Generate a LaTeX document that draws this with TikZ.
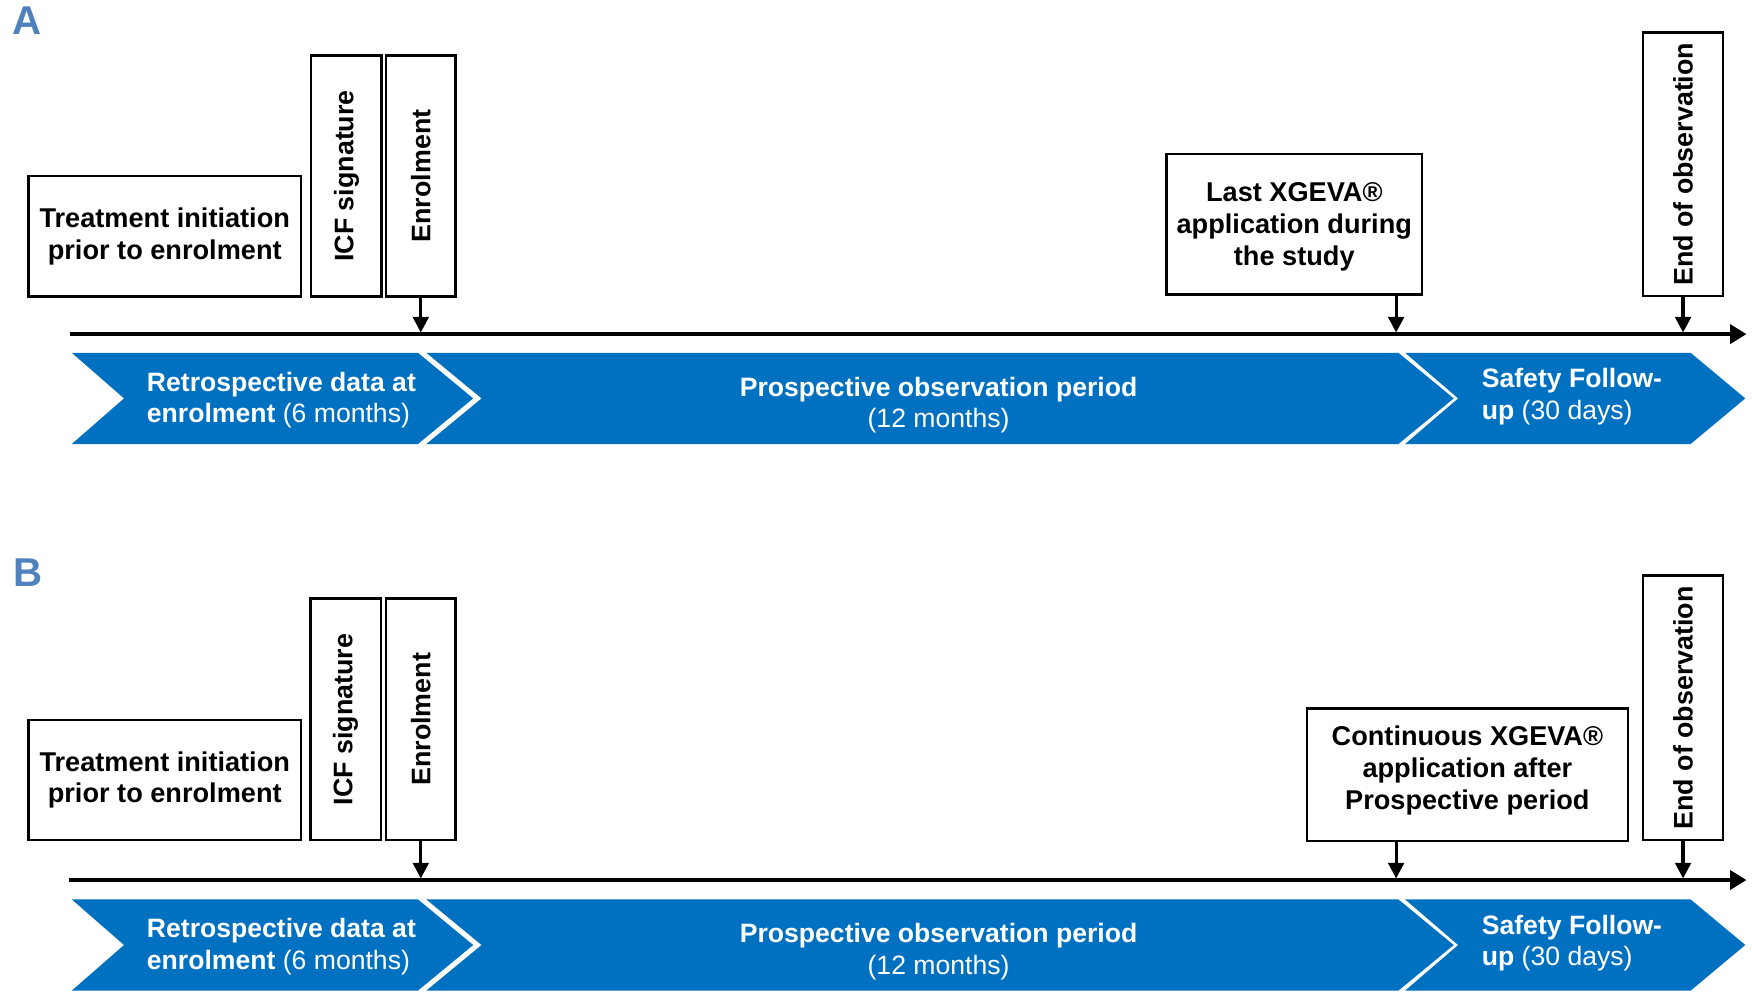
\documentclass[tikz,border=0pt]{standalone}
\usepackage{fontspec}
\setmainfont{Liberation Sans}
\usetikzlibrary{arrows.meta}
\definecolor{band}{RGB}{0,112,192}
\definecolor{lab}{RGB}{79,129,189}
\newcommand\blk{\fontsize{24.3}{28.5}\selectfont\bfseries}
\newcommand\vblk{\fontsize{24}{28}\selectfont\bfseries}
\newcommand\wht{\fontsize{23.8}{28}\selectfont\color{white}}
\begin{document}
\begin{tikzpicture}[x=1pt,y=-1pt,
  evbox/.style={draw=black, line width=2.2pt, fill=white, inner sep=0pt, align=center, font=\blk},
  btext/.style={font=\blk, inner sep=0pt, align=center},
  vtext/.style={rotate=90, font=\vblk, inner sep=0pt},
  chev/.style={fill=band, draw=none},
  ctext/.style={font=\wht, inner sep=0pt},
  tick/.style={line width=2.9pt, -{Triangle[length=14pt,width=14pt]}},
  axis/.style={line width=3pt, -{Triangle[length=14.5pt,width=17pt]}},
  panel/.style={font=\fontsize{36}{36}\selectfont\bfseries, text=lab, inner sep=0pt}
]
\path[use as bounding box] (0,0) rectangle (1568,887);

% ---------------- Panel A ----------------
\node[panel, anchor=north west] (labA) at (11,6) {A};

\coordinate (axA) at (62.7,299);
\coordinate (axAend) at (1563,299);
\coordinate (axtopA) at (0,297.6);
\draw[axis] (axA) -- (axAend);

\node[evbox, minimum width=243.5pt, minimum height=108pt] (trA) at (147.45,211.5) {Treatment initiation\\prior to enrolment};
\node[evbox, minimum width=63pt, minimum height=216pt] (icfA) at (310,157.5) {};
\node[vtext] (icfAt) at (icfA.center) {ICF signature};
\node[evbox, minimum width=62pt, minimum height=216pt] (enA) at (376.6,157.5) {};
\node[vtext] (enAt) at (enA.center) {Enrolment};
\node[evbox, minimum width=228.7pt, minimum height=125.6pt] (lastA) at (1158.35,200.6) {};
\node[btext] (lastAt) at (1158.35,203) {Last XGEVA®\\application during\\the study};
\node[evbox, minimum width=71.4pt, minimum height=236pt] (eoA) at (1506.3,147) {};
\node[vtext] (eoAt) at (eoA.center) {End of observation};

\coordinate (pA) at (1249.5,0);
\draw[tick] (enA.south) -- (enA.south |- axtopA);
\draw[tick] (lastA.south -| pA) -- (pA |- axtopA);
\draw[tick] (eoA.south) -- (eoA.south |- axtopA);

\fill[chev] (64.2,315.7) -- (374,315.7) -- (423.5,356.55) -- (374,397.4) -- (64.2,397.4) -- (111,356.55) -- cycle;
\fill[chev] (381.5,315.7) -- (1251.5,315.7) -- (1301,356.55) -- (1251.5,397.4) -- (381.5,397.4) -- (431,356.55) -- cycle;
\fill[chev] (1257.5,315.7) -- (1513,315.7) -- (1562,356.55) -- (1513,397.4) -- (1257.5,397.4) -- (1305,356.55) -- cycle;

\node[ctext, anchor=west, align=left] (c1A) at (131.3,358) {{\bfseries Retrospective data at}\\{\bfseries enrolment} (6 months)};
\node[ctext, align=center] (c2A) at (840,362.5) {{\bfseries Prospective observation period}\\(12 months)};
\node[ctext, anchor=west, align=left] (c3A) at (1326,355) {{\bfseries Safety Follow-}\\{\bfseries up} (30 days)};

% ---------------- Panel B ----------------
\node[panel, anchor=north west] (labB) at (11.5,500) {B};

\coordinate (axB) at (61.7,787.6);
\coordinate (axBend) at (1563,787.6);
\coordinate (axtopB) at (0,786.2);
\draw[axis] (axB) -- (axBend);

\node[evbox, minimum width=243.5pt, minimum height=107.4pt] (trB) at (147.45,698.1) {Treatment initiation\\prior to enrolment};
\node[evbox, minimum width=63pt, minimum height=216pt] (icfB) at (309.3,643.8) {};
\node[vtext] (icfBt) at (icfB.center) {ICF signature};
\node[evbox, minimum width=62pt, minimum height=216pt] (enB) at (376.6,643.8) {};
\node[vtext] (enBt) at (enB.center) {Enrolment};
\node[evbox, minimum width=287.5pt, minimum height=118.7pt] (contB) at (1313.25,693.35) {};
\node[btext] (contBt) at (1313.25,689.5) {Continuous XGEVA®\\application after\\Prospective period};
\node[evbox, minimum width=71.4pt, minimum height=237pt] (eoB) at (1506.3,633.5) {};
\node[vtext] (eoBt) at (eoB.center) {End of observation};

\coordinate (pB) at (1249.5,0);
\draw[tick] (enB.south) -- (enB.south |- axtopB);
\draw[tick] (contB.south -| pB) -- (pB |- axtopB);
\draw[tick] (eoB.south) -- (eoB.south |- axtopB);

\fill[chev] (64.2,804.9) -- (374,804.9) -- (423.5,845.75) -- (374,886.6) -- (64.2,886.6) -- (111,845.75) -- cycle;
\fill[chev] (381.5,804.9) -- (1251.5,804.9) -- (1301,845.75) -- (1251.5,886.6) -- (381.5,886.6) -- (431,845.75) -- cycle;
\fill[chev] (1257.5,804.9) -- (1513,804.9) -- (1562,845.75) -- (1513,886.6) -- (1257.5,886.6) -- (1305,845.75) -- cycle;

\node[ctext, anchor=west, align=left] (c1B) at (131.3,847.2) {{\bfseries Retrospective data at}\\{\bfseries enrolment} (6 months)};
\node[ctext, align=center] (c2B) at (840,851.7) {{\bfseries Prospective observation period}\\(12 months)};
\node[ctext, anchor=west, align=left] (c3B) at (1326,844.2) {{\bfseries Safety Follow-}\\{\bfseries up} (30 days)};
\end{tikzpicture}
\end{document}
